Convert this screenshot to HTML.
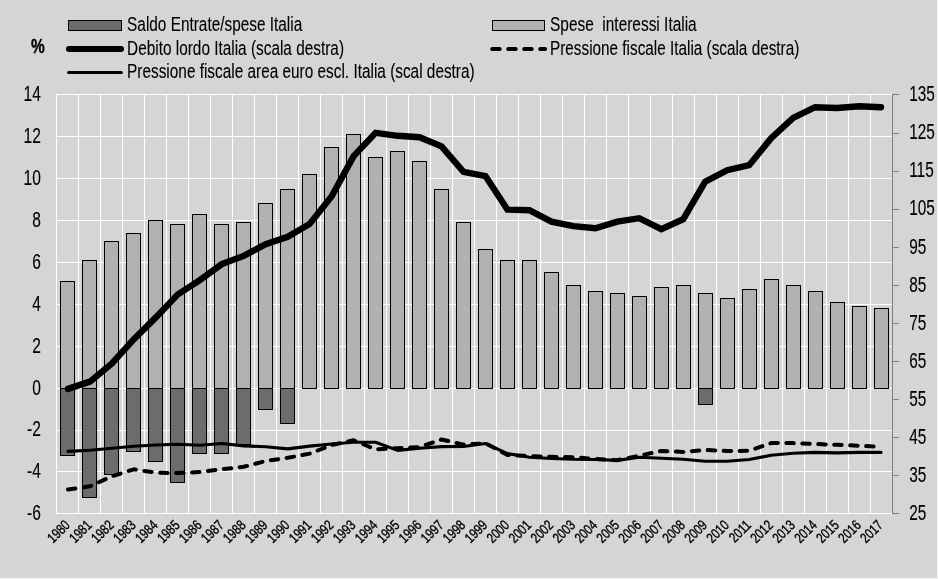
<!DOCTYPE html>
<html lang="it">
<head>
<meta charset="utf-8">
<title>Italia: saldo, spese per interessi, debito e pressione fiscale</title>
<style>
html,body{margin:0;padding:0;background:#d5d5d5;}
body{width:938px;height:579px;overflow:hidden;}
svg{display:block;}
text{white-space:pre;}
</style>
</head>
<body>
<svg width="938" height="579" viewBox="0 0 938 579">
<rect x="0" y="0" width="938" height="579" fill="#f4f4f4"/>
<rect x="0" y="0" width="937" height="578" fill="#d5d5d5"/>
<path d="M56.0 94.50H892.5M56.0 136.50H892.5M56.0 178.50H892.5M56.0 220.50H892.5M56.0 262.50H892.5M56.0 304.50H892.5M56.0 346.50H892.5M56.0 388.50H892.5M56.0 430.50H892.5M56.0 471.50H892.5M56.0 513.50H892.5M56.5 94.5V513.5M78.5 94.5V513.5M100.5 94.5V513.5M122.5 94.5V513.5M144.5 94.5V513.5M166.5 94.5V513.5M188.5 94.5V513.5M210.5 94.5V513.5M232.5 94.5V513.5M254.5 94.5V513.5M276.5 94.5V513.5M298.5 94.5V513.5M320.5 94.5V513.5M342.5 94.5V513.5M364.5 94.5V513.5M386.5 94.5V513.5M408.5 94.5V513.5M430.5 94.5V513.5M452.5 94.5V513.5M474.5 94.5V513.5M496.5 94.5V513.5M518.5 94.5V513.5M540.5 94.5V513.5M562.5 94.5V513.5M584.5 94.5V513.5M606.5 94.5V513.5M628.5 94.5V513.5M650.5 94.5V513.5M672.5 94.5V513.5M694.5 94.5V513.5M716.5 94.5V513.5M738.5 94.5V513.5M760.5 94.5V513.5M782.5 94.5V513.5M804.5 94.5V513.5M826.5 94.5V513.5M848.5 94.5V513.5M870.5 94.5V513.5" stroke="#ffffff" stroke-width="1" fill="none"/>
<path d="M892.5 94.0V514.0M892.5 94.50h6.5M892.5 133.50h6.5M892.5 171.50h6.5M892.5 209.50h6.5M892.5 247.50h6.5M892.5 285.50h6.5M892.5 323.50h6.5M892.5 361.50h6.5M892.5 399.50h6.5M892.5 437.50h6.5M892.5 475.50h6.5M892.5 513.50h6.5" stroke="#7f7f7f" stroke-width="1" fill="none"/>
<g fill="#b1b1b1" stroke="#000" stroke-width="1">
<rect x="60.5" y="281.5" width="14" height="107.0"/>
<rect x="82.5" y="260.5" width="14" height="128.0"/>
<rect x="104.5" y="241.5" width="14" height="147.0"/>
<rect x="126.5" y="233.5" width="14" height="155.0"/>
<rect x="148.5" y="220.5" width="14" height="168.0"/>
<rect x="170.5" y="224.5" width="14" height="164.0"/>
<rect x="192.5" y="214.5" width="14" height="174.0"/>
<rect x="214.5" y="224.5" width="14" height="164.0"/>
<rect x="236.5" y="222.5" width="14" height="166.0"/>
<rect x="258.5" y="203.5" width="14" height="185.0"/>
<rect x="280.5" y="189.5" width="14" height="199.0"/>
<rect x="302.5" y="174.5" width="14" height="214.0"/>
<rect x="324.5" y="147.5" width="14" height="241.0"/>
<rect x="346.5" y="134.5" width="14" height="254.0"/>
<rect x="368.5" y="157.5" width="14" height="231.0"/>
<rect x="390.5" y="151.5" width="14" height="237.0"/>
<rect x="412.5" y="161.5" width="14" height="227.0"/>
<rect x="434.5" y="189.5" width="14" height="199.0"/>
<rect x="456.5" y="222.5" width="14" height="166.0"/>
<rect x="478.5" y="249.5" width="14" height="139.0"/>
<rect x="500.5" y="260.5" width="14" height="128.0"/>
<rect x="522.5" y="260.5" width="14" height="128.0"/>
<rect x="544.5" y="272.5" width="14" height="116.0"/>
<rect x="566.5" y="285.5" width="14" height="103.0"/>
<rect x="588.5" y="291.5" width="14" height="97.0"/>
<rect x="610.5" y="293.5" width="14" height="95.0"/>
<rect x="632.5" y="296.5" width="14" height="92.0"/>
<rect x="654.5" y="287.5" width="14" height="101.0"/>
<rect x="676.5" y="285.5" width="14" height="103.0"/>
<rect x="698.5" y="293.5" width="14" height="95.0"/>
<rect x="720.5" y="298.5" width="14" height="90.0"/>
<rect x="742.5" y="289.5" width="14" height="99.0"/>
<rect x="764.5" y="279.5" width="14" height="109.0"/>
<rect x="786.5" y="285.5" width="14" height="103.0"/>
<rect x="808.5" y="291.5" width="14" height="97.0"/>
<rect x="830.5" y="302.5" width="14" height="86.0"/>
<rect x="852.5" y="306.5" width="14" height="82.0"/>
<rect x="874.5" y="308.5" width="14" height="80.0"/>
</g>
<g fill="#6c6c6c" stroke="#000" stroke-width="1">
<rect x="60.5" y="388.5" width="14" height="67.0"/>
<rect x="82.5" y="388.5" width="14" height="109.0"/>
<rect x="104.5" y="388.5" width="14" height="86.0"/>
<rect x="126.5" y="388.5" width="14" height="63.0"/>
<rect x="148.5" y="388.5" width="14" height="73.0"/>
<rect x="170.5" y="388.5" width="14" height="94.0"/>
<rect x="192.5" y="388.5" width="14" height="65.0"/>
<rect x="214.5" y="388.5" width="14" height="65.0"/>
<rect x="236.5" y="388.5" width="14" height="56.0"/>
<rect x="258.5" y="388.5" width="14" height="21.0"/>
<rect x="280.5" y="388.5" width="14" height="35.0"/>
<rect x="698.5" y="388.5" width="14" height="16.0"/>
</g>
<path d="M67.99 388.9 L89.96 381.6 L111.93 363.4 L133.91 339.1 L155.88 317.4 L177.86 294.4 L199.83 280.1 L221.80 264.1 L243.78 255.9 L265.75 244.2 L287.72 236.8 L309.70 223.9 L331.67 196.2 L353.64 156.1 L375.62 132.8 L397.59 135.8 L419.57 137.2 L441.54 146.4 L463.51 171.8 L485.49 176.1 L507.46 209.6 L529.43 210.2 L551.41 221.6 L573.38 226.2 L595.36 228.2 L617.33 221.6 L639.30 218.2 L661.28 229.2 L683.25 219.2 L705.22 181.6 L727.20 170.2 L749.17 165.2 L771.14 138.2 L793.12 118.0 L815.09 107.2 L837.07 108.0 L859.04 106.3 L881.01 107.2" fill="none" stroke="#000" stroke-width="6.4" stroke-linecap="round" stroke-linejoin="miter"/>
<path d="M67.99 489.5 L89.96 486.3 L111.93 476.3 L133.91 469.3 L155.88 472.7 L177.86 473.1 L199.83 472.0 L221.80 469.3 L243.78 466.8 L265.75 461.0 L287.72 457.8 L309.70 453.6 L331.67 445.0 L353.64 440.3 L375.62 449.3 L397.59 448.2 L419.57 447.1 L441.54 439.5 L463.51 444.6 L485.49 443.3 L507.46 455.0 L529.43 456.0 L551.41 456.8 L573.38 457.2 L595.36 459.0 L617.33 460.2 L639.30 455.7 L661.28 451.0 L683.25 451.9 L705.22 450.0 L727.20 451.0 L749.17 450.8 L771.14 443.1 L793.12 443.1 L815.09 444.0 L837.07 444.8 L859.04 445.7 L881.01 446.9" fill="none" stroke="#000" stroke-width="4.0" stroke-linecap="round" stroke-linejoin="round" stroke-dasharray="7.5 8.48"/>
<path d="M67.99 451.4 L89.96 450.3 L111.93 448.2 L133.91 446.3 L155.88 445.0 L177.86 444.3 L199.83 445.2 L221.80 443.5 L243.78 445.9 L265.75 446.8 L287.72 448.9 L309.70 446.1 L331.67 444.0 L353.64 442.3 L375.62 442.3 L397.59 450.4 L419.57 448.2 L441.54 446.6 L463.51 446.5 L485.49 443.5 L507.46 453.6 L529.43 457.2 L551.41 458.5 L573.38 459.3 L595.36 459.5 L617.33 460.4 L639.30 457.2 L661.28 458.3 L683.25 459.3 L705.22 461.2 L727.20 461.2 L749.17 459.5 L771.14 455.3 L793.12 453.3 L815.09 452.4 L837.07 452.9 L859.04 452.4 L881.01 452.4" fill="none" stroke="#000" stroke-width="3.1" stroke-linecap="round" stroke-linejoin="round"/>
<g font-family="'Liberation Sans', sans-serif" fill="#000">
<text xml:space="preserve" transform="translate(40.80 101.20) scale(0.725 1)" font-size="21.5" text-anchor="end" font-weight="normal" stroke="#000" stroke-width="0.15">14</text>
<text xml:space="preserve" transform="translate(40.80 143.10) scale(0.725 1)" font-size="21.5" text-anchor="end" font-weight="normal" stroke="#000" stroke-width="0.15">12</text>
<text xml:space="preserve" transform="translate(40.80 185.00) scale(0.725 1)" font-size="21.5" text-anchor="end" font-weight="normal" stroke="#000" stroke-width="0.15">10</text>
<text xml:space="preserve" transform="translate(40.80 226.90) scale(0.725 1)" font-size="21.5" text-anchor="end" font-weight="normal" stroke="#000" stroke-width="0.15">8</text>
<text xml:space="preserve" transform="translate(40.80 268.80) scale(0.725 1)" font-size="21.5" text-anchor="end" font-weight="normal" stroke="#000" stroke-width="0.15">6</text>
<text xml:space="preserve" transform="translate(40.80 310.70) scale(0.725 1)" font-size="21.5" text-anchor="end" font-weight="normal" stroke="#000" stroke-width="0.15">4</text>
<text xml:space="preserve" transform="translate(40.80 352.60) scale(0.725 1)" font-size="21.5" text-anchor="end" font-weight="normal" stroke="#000" stroke-width="0.15">2</text>
<text xml:space="preserve" transform="translate(40.80 394.50) scale(0.725 1)" font-size="21.5" text-anchor="end" font-weight="normal" stroke="#000" stroke-width="0.15">0</text>
<text xml:space="preserve" transform="translate(40.80 436.40) scale(0.725 1)" font-size="21.5" text-anchor="end" font-weight="normal" stroke="#000" stroke-width="0.15">-2</text>
<text xml:space="preserve" transform="translate(40.80 478.30) scale(0.725 1)" font-size="21.5" text-anchor="end" font-weight="normal" stroke="#000" stroke-width="0.15">-4</text>
<text xml:space="preserve" transform="translate(40.80 520.20) scale(0.725 1)" font-size="21.5" text-anchor="end" font-weight="normal" stroke="#000" stroke-width="0.15">-6</text>
<text xml:space="preserve" transform="translate(909.20 101.20) scale(0.715 1)" font-size="21.5" text-anchor="start" font-weight="normal" stroke="#000" stroke-width="0.15">135</text>
<text xml:space="preserve" transform="translate(909.20 139.29) scale(0.715 1)" font-size="21.5" text-anchor="start" font-weight="normal" stroke="#000" stroke-width="0.15">125</text>
<text xml:space="preserve" transform="translate(909.20 177.38) scale(0.715 1)" font-size="21.5" text-anchor="start" font-weight="normal" stroke="#000" stroke-width="0.15">115</text>
<text xml:space="preserve" transform="translate(909.20 215.47) scale(0.715 1)" font-size="21.5" text-anchor="start" font-weight="normal" stroke="#000" stroke-width="0.15">105</text>
<text xml:space="preserve" transform="translate(909.20 253.56) scale(0.715 1)" font-size="21.5" text-anchor="start" font-weight="normal" stroke="#000" stroke-width="0.15">95</text>
<text xml:space="preserve" transform="translate(909.20 291.65) scale(0.715 1)" font-size="21.5" text-anchor="start" font-weight="normal" stroke="#000" stroke-width="0.15">85</text>
<text xml:space="preserve" transform="translate(909.20 329.74) scale(0.715 1)" font-size="21.5" text-anchor="start" font-weight="normal" stroke="#000" stroke-width="0.15">75</text>
<text xml:space="preserve" transform="translate(909.20 367.83) scale(0.715 1)" font-size="21.5" text-anchor="start" font-weight="normal" stroke="#000" stroke-width="0.15">65</text>
<text xml:space="preserve" transform="translate(909.20 405.92) scale(0.715 1)" font-size="21.5" text-anchor="start" font-weight="normal" stroke="#000" stroke-width="0.15">55</text>
<text xml:space="preserve" transform="translate(909.20 444.01) scale(0.715 1)" font-size="21.5" text-anchor="start" font-weight="normal" stroke="#000" stroke-width="0.15">45</text>
<text xml:space="preserve" transform="translate(909.20 482.10) scale(0.715 1)" font-size="21.5" text-anchor="start" font-weight="normal" stroke="#000" stroke-width="0.15">35</text>
<text xml:space="preserve" transform="translate(909.20 520.19) scale(0.715 1)" font-size="21.5" text-anchor="start" font-weight="normal" stroke="#000" stroke-width="0.15">25</text>
<text xml:space="preserve" transform="translate(70.79 526.00) rotate(-45) scale(0.79 1)" font-size="14.3" text-anchor="end" font-weight="normal" stroke="#000" stroke-width="0.35">1980</text>
<text xml:space="preserve" transform="translate(92.76 526.00) rotate(-45) scale(0.79 1)" font-size="14.3" text-anchor="end" font-weight="normal" stroke="#000" stroke-width="0.35">1981</text>
<text xml:space="preserve" transform="translate(114.73 526.00) rotate(-45) scale(0.79 1)" font-size="14.3" text-anchor="end" font-weight="normal" stroke="#000" stroke-width="0.35">1982</text>
<text xml:space="preserve" transform="translate(136.71 526.00) rotate(-45) scale(0.79 1)" font-size="14.3" text-anchor="end" font-weight="normal" stroke="#000" stroke-width="0.35">1983</text>
<text xml:space="preserve" transform="translate(158.68 526.00) rotate(-45) scale(0.79 1)" font-size="14.3" text-anchor="end" font-weight="normal" stroke="#000" stroke-width="0.35">1984</text>
<text xml:space="preserve" transform="translate(180.66 526.00) rotate(-45) scale(0.79 1)" font-size="14.3" text-anchor="end" font-weight="normal" stroke="#000" stroke-width="0.35">1985</text>
<text xml:space="preserve" transform="translate(202.63 526.00) rotate(-45) scale(0.79 1)" font-size="14.3" text-anchor="end" font-weight="normal" stroke="#000" stroke-width="0.35">1986</text>
<text xml:space="preserve" transform="translate(224.60 526.00) rotate(-45) scale(0.79 1)" font-size="14.3" text-anchor="end" font-weight="normal" stroke="#000" stroke-width="0.35">1987</text>
<text xml:space="preserve" transform="translate(246.58 526.00) rotate(-45) scale(0.79 1)" font-size="14.3" text-anchor="end" font-weight="normal" stroke="#000" stroke-width="0.35">1988</text>
<text xml:space="preserve" transform="translate(268.55 526.00) rotate(-45) scale(0.79 1)" font-size="14.3" text-anchor="end" font-weight="normal" stroke="#000" stroke-width="0.35">1989</text>
<text xml:space="preserve" transform="translate(290.52 526.00) rotate(-45) scale(0.79 1)" font-size="14.3" text-anchor="end" font-weight="normal" stroke="#000" stroke-width="0.35">1990</text>
<text xml:space="preserve" transform="translate(312.50 526.00) rotate(-45) scale(0.79 1)" font-size="14.3" text-anchor="end" font-weight="normal" stroke="#000" stroke-width="0.35">1991</text>
<text xml:space="preserve" transform="translate(334.47 526.00) rotate(-45) scale(0.79 1)" font-size="14.3" text-anchor="end" font-weight="normal" stroke="#000" stroke-width="0.35">1992</text>
<text xml:space="preserve" transform="translate(356.44 526.00) rotate(-45) scale(0.79 1)" font-size="14.3" text-anchor="end" font-weight="normal" stroke="#000" stroke-width="0.35">1993</text>
<text xml:space="preserve" transform="translate(378.42 526.00) rotate(-45) scale(0.79 1)" font-size="14.3" text-anchor="end" font-weight="normal" stroke="#000" stroke-width="0.35">1994</text>
<text xml:space="preserve" transform="translate(400.39 526.00) rotate(-45) scale(0.79 1)" font-size="14.3" text-anchor="end" font-weight="normal" stroke="#000" stroke-width="0.35">1995</text>
<text xml:space="preserve" transform="translate(422.37 526.00) rotate(-45) scale(0.79 1)" font-size="14.3" text-anchor="end" font-weight="normal" stroke="#000" stroke-width="0.35">1996</text>
<text xml:space="preserve" transform="translate(444.34 526.00) rotate(-45) scale(0.79 1)" font-size="14.3" text-anchor="end" font-weight="normal" stroke="#000" stroke-width="0.35">1997</text>
<text xml:space="preserve" transform="translate(466.31 526.00) rotate(-45) scale(0.79 1)" font-size="14.3" text-anchor="end" font-weight="normal" stroke="#000" stroke-width="0.35">1998</text>
<text xml:space="preserve" transform="translate(488.29 526.00) rotate(-45) scale(0.79 1)" font-size="14.3" text-anchor="end" font-weight="normal" stroke="#000" stroke-width="0.35">1999</text>
<text xml:space="preserve" transform="translate(510.26 526.00) rotate(-45) scale(0.79 1)" font-size="14.3" text-anchor="end" font-weight="normal" stroke="#000" stroke-width="0.35">2000</text>
<text xml:space="preserve" transform="translate(532.23 526.00) rotate(-45) scale(0.79 1)" font-size="14.3" text-anchor="end" font-weight="normal" stroke="#000" stroke-width="0.35">2001</text>
<text xml:space="preserve" transform="translate(554.21 526.00) rotate(-45) scale(0.79 1)" font-size="14.3" text-anchor="end" font-weight="normal" stroke="#000" stroke-width="0.35">2002</text>
<text xml:space="preserve" transform="translate(576.18 526.00) rotate(-45) scale(0.79 1)" font-size="14.3" text-anchor="end" font-weight="normal" stroke="#000" stroke-width="0.35">2003</text>
<text xml:space="preserve" transform="translate(598.16 526.00) rotate(-45) scale(0.79 1)" font-size="14.3" text-anchor="end" font-weight="normal" stroke="#000" stroke-width="0.35">2004</text>
<text xml:space="preserve" transform="translate(620.13 526.00) rotate(-45) scale(0.79 1)" font-size="14.3" text-anchor="end" font-weight="normal" stroke="#000" stroke-width="0.35">2005</text>
<text xml:space="preserve" transform="translate(642.10 526.00) rotate(-45) scale(0.79 1)" font-size="14.3" text-anchor="end" font-weight="normal" stroke="#000" stroke-width="0.35">2006</text>
<text xml:space="preserve" transform="translate(664.08 526.00) rotate(-45) scale(0.79 1)" font-size="14.3" text-anchor="end" font-weight="normal" stroke="#000" stroke-width="0.35">2007</text>
<text xml:space="preserve" transform="translate(686.05 526.00) rotate(-45) scale(0.79 1)" font-size="14.3" text-anchor="end" font-weight="normal" stroke="#000" stroke-width="0.35">2008</text>
<text xml:space="preserve" transform="translate(708.02 526.00) rotate(-45) scale(0.79 1)" font-size="14.3" text-anchor="end" font-weight="normal" stroke="#000" stroke-width="0.35">2009</text>
<text xml:space="preserve" transform="translate(730.00 526.00) rotate(-45) scale(0.79 1)" font-size="14.3" text-anchor="end" font-weight="normal" stroke="#000" stroke-width="0.35">2010</text>
<text xml:space="preserve" transform="translate(751.97 526.00) rotate(-45) scale(0.79 1)" font-size="14.3" text-anchor="end" font-weight="normal" stroke="#000" stroke-width="0.35">2011</text>
<text xml:space="preserve" transform="translate(773.94 526.00) rotate(-45) scale(0.79 1)" font-size="14.3" text-anchor="end" font-weight="normal" stroke="#000" stroke-width="0.35">2012</text>
<text xml:space="preserve" transform="translate(795.92 526.00) rotate(-45) scale(0.79 1)" font-size="14.3" text-anchor="end" font-weight="normal" stroke="#000" stroke-width="0.35">2013</text>
<text xml:space="preserve" transform="translate(817.89 526.00) rotate(-45) scale(0.79 1)" font-size="14.3" text-anchor="end" font-weight="normal" stroke="#000" stroke-width="0.35">2014</text>
<text xml:space="preserve" transform="translate(839.87 526.00) rotate(-45) scale(0.79 1)" font-size="14.3" text-anchor="end" font-weight="normal" stroke="#000" stroke-width="0.35">2015</text>
<text xml:space="preserve" transform="translate(861.84 526.00) rotate(-45) scale(0.79 1)" font-size="14.3" text-anchor="end" font-weight="normal" stroke="#000" stroke-width="0.35">2016</text>
<text xml:space="preserve" transform="translate(883.81 526.00) rotate(-45) scale(0.79 1)" font-size="14.3" text-anchor="end" font-weight="normal" stroke="#000" stroke-width="0.35">2017</text>
<text xml:space="preserve" transform="translate(31.00 53.00) scale(0.772 1)" font-size="20" text-anchor="start" font-weight="bold" stroke="#000" stroke-width="0.4">%</text>
<text xml:space="preserve" transform="translate(127.10 30.70) scale(0.7965 1)" font-size="19.3" text-anchor="start" font-weight="normal" stroke="#000" stroke-width="0.12">Saldo Entrate/spese Italia</text>
<text xml:space="preserve" transform="translate(127.10 55.20) scale(0.7965 1)" font-size="19.3" text-anchor="start" font-weight="normal" stroke="#000" stroke-width="0.12">Debito lordo Italia (scala destra)</text>
<text xml:space="preserve" transform="translate(127.10 78.30) scale(0.7965 1)" font-size="19.3" text-anchor="start" font-weight="normal" stroke="#000" stroke-width="0.12">Pressione fiscale area euro escl. Italia (scal destra)</text>
<text xml:space="preserve" transform="translate(550.00 30.70) scale(0.8 1)" font-size="19.3" text-anchor="start" font-weight="normal" stroke="#000" stroke-width="0.12">Spese  interessi Italia</text>
<text xml:space="preserve" transform="translate(550.00 55.20) scale(0.794 1)" font-size="19.3" text-anchor="start" font-weight="normal" stroke="#000" stroke-width="0.12">Pressione fiscale Italia (scala destra)</text>
</g>
<rect x="68.5" y="20.5" width="53" height="10" fill="#6c6c6c" stroke="#000"/>
<rect x="492.5" y="20.5" width="52" height="10" fill="#b1b1b1" stroke="#000"/>
<path d="M69 49H121" stroke="#000" stroke-width="6" stroke-linecap="round" fill="none"/>
<path d="M68.6 72.5H121.4" stroke="#000" stroke-width="3" stroke-linecap="round" fill="none"/>
<path d="M492.2 49H545.1" stroke="#000" stroke-width="4.0" stroke-linecap="round" stroke-dasharray="7.5 8.5" fill="none"/>
</svg>
</body>
</html>
